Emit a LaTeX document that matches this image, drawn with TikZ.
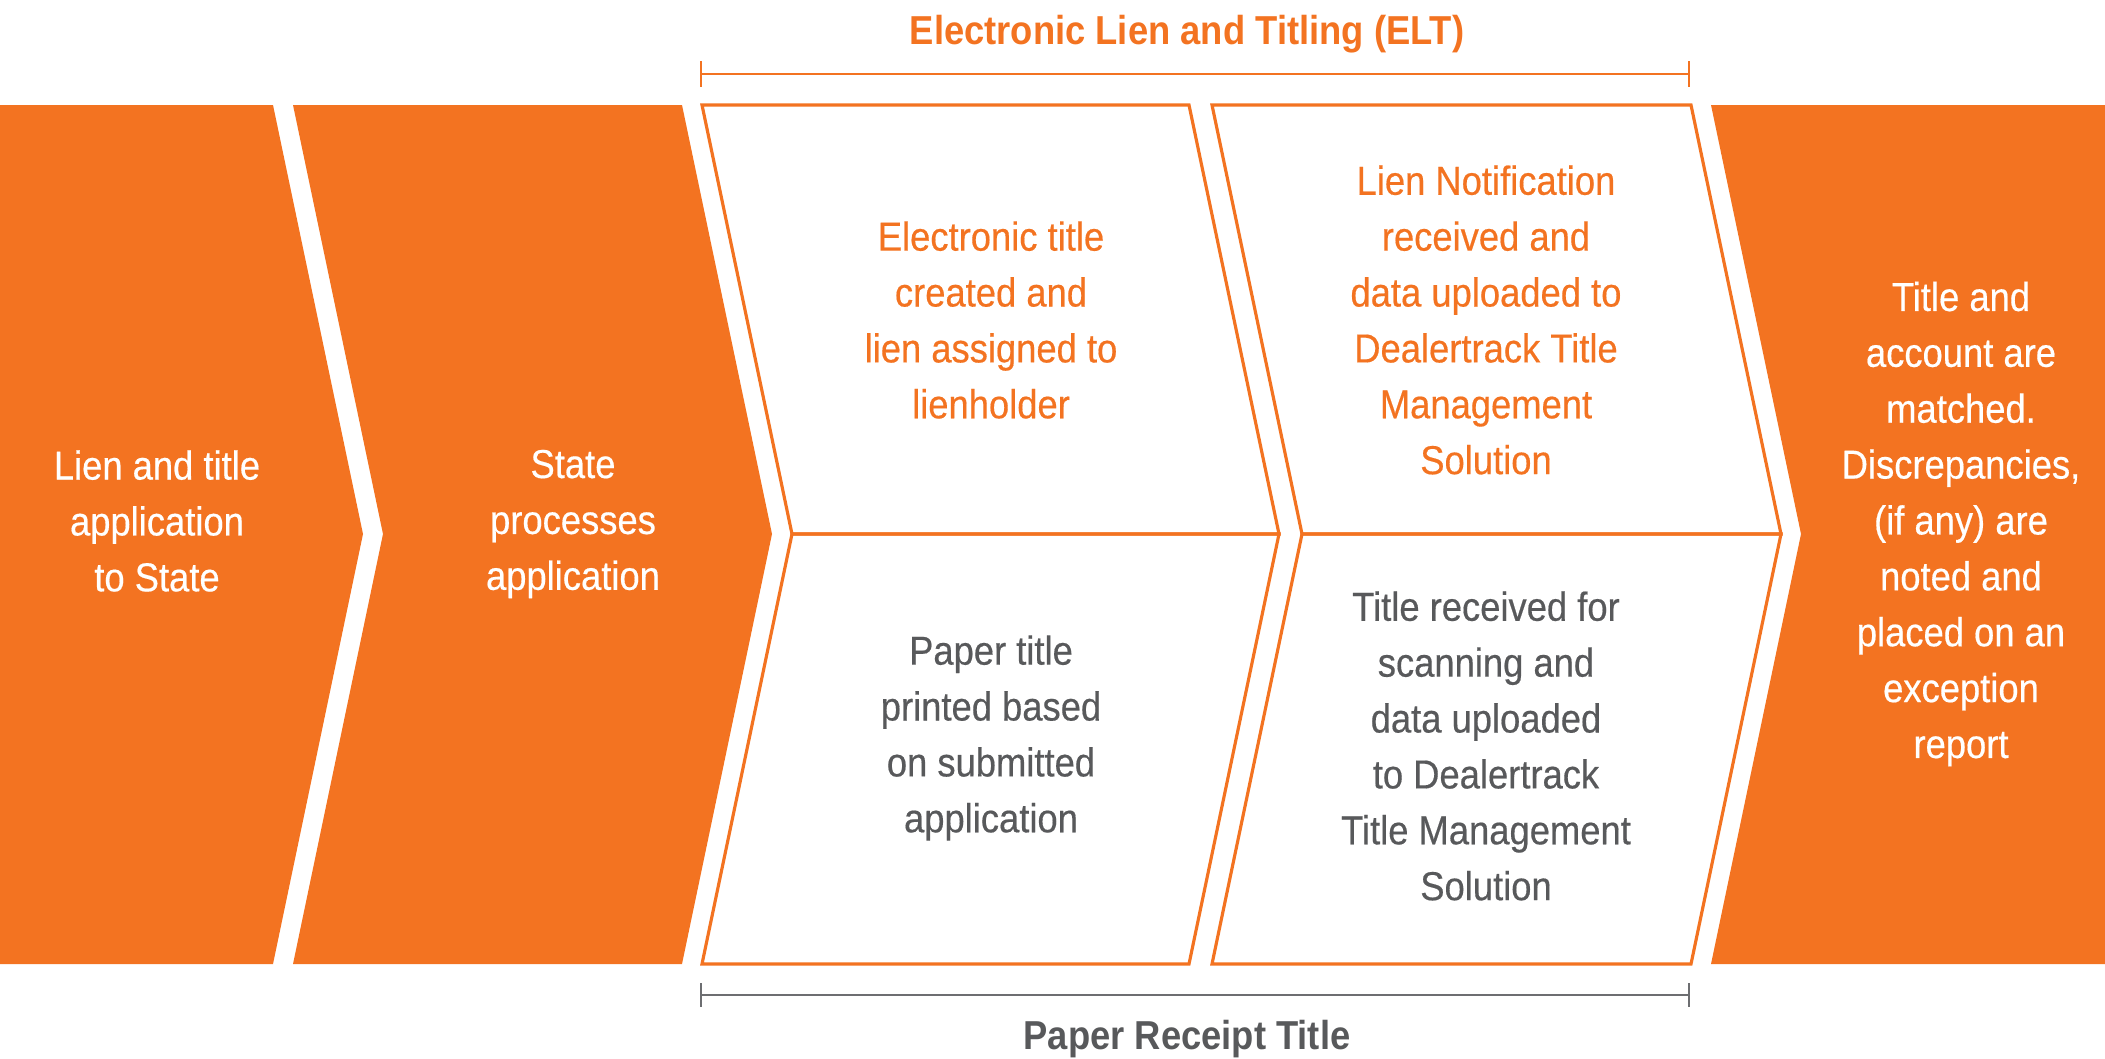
\documentclass[tikz,border=0pt]{standalone}
\usepackage{fontspec}
\setmainfont[FakeStretch=0.9]{Liberation Sans}
\newfontfamily\boxfont[FakeStretch=0.9,FakeBold=0.4]{Liberation Sans}
\definecolor{eltorange}{RGB}{243,115,33}
\definecolor{eltgrey}{RGB}{88,89,91}
\definecolor{bargrey}{RGB}{109,110,113}
\tikzset{
  band/.style={fill=eltorange},
  frame/.style={draw=eltorange,line width=0.9pt,line join=miter},
  boxtext/.style={align=center,inner sep=0pt,font=\boxfont\fontsize{11.5}{15.9}\selectfont},
  headtext/.style={anchor=base,inner sep=0pt,font=\bfseries\fontsize{11.5}{15.9}\selectfont}
}
\begin{document}
\begin{tikzpicture}[x=0.1mm,y=-0.1mm]
\useasboundingbox (0,0) rectangle (2105,1058);
\fill[band] (0,105) -- (273,105) -- (363,534) -- (273,964) -- (0,964) -- cycle;
\fill[band] (293,105) -- (682,105) -- (772,534) -- (682,964) -- (293,964) -- (383,534) -- cycle;
\draw[frame] (702,105) -- (1189,105) -- (1279,534) -- (792,534) -- cycle;
\draw[frame] (792,534) -- (1279,534) -- (1189,964) -- (702,964) -- cycle;
\draw[frame] (1212,105) -- (1691,105) -- (1781,534) -- (1302,534) -- cycle;
\draw[frame] (1302,534) -- (1781,534) -- (1691,964) -- (1212,964) -- cycle;
\fill[band] (1711,105) -- (2105,105) -- (2105,964) -- (1711,964) -- (1801,534) -- cycle;
\draw[eltorange,line width=0.5pt] (701,61) -- (701,87) (701,74) -- (1689,74) (1689,61) -- (1689,87);
\draw[bargrey,line width=0.5pt] (701,983) -- (701,1007) (701,995) -- (1689,995) (1689,983) -- (1689,1007);
\node[headtext,text=eltorange] (eltlabel) at (1187,44) {Electronic Lien and Titling (ELT)};
\node[headtext,text=eltgrey] (paperlabel) at (1187,1049) {Paper Receipt Title};
\node[boxtext,text=white] (lienapp) at (157,521) {Lien and title\\application\\to State};
\node[boxtext,text=white] (stateproc) at (573,524) {State\\processes\\application};
\node[boxtext,text=eltorange] (etitle) at (991,320) {Electronic title\\created and\\lien assigned to\\lienholder};
\node[boxtext,text=eltgrey] (ptitle) at (991,738) {Paper title\\printed based\\on submitted\\application};
\node[boxtext,text=eltorange] (lnotif) at (1486,320) {Lien Notification\\received and\\data uploaded to\\Dealertrack Title\\Management\\Solution};
\node[boxtext,text=eltgrey] (tscan) at (1486,746) {Title received for\\scanning and\\data uploaded\\to Dealertrack\\Title Management\\Solution};
\node[boxtext,text=white] (matched) at (1961,524) {Title and\\account are\\matched.\\Discrepancies,\\(if any) are\\noted and\\placed on an\\exception\\report};
\end{tikzpicture}
\end{document}
